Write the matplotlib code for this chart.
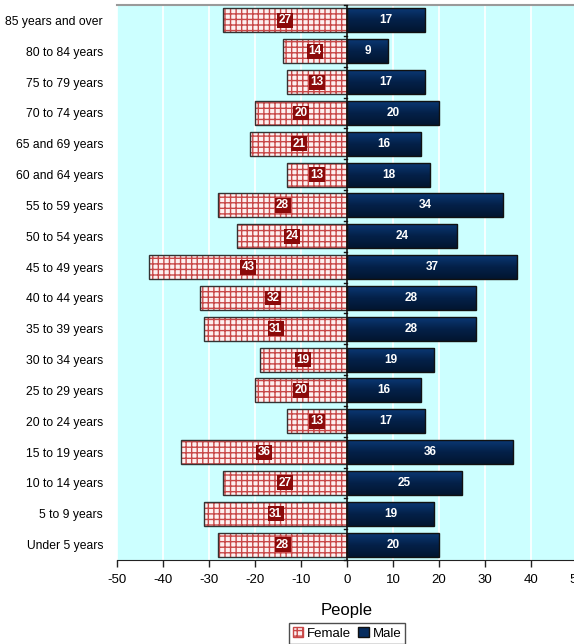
import numpy as np
import matplotlib.pyplot as plt
from matplotlib.patches import Patch
from matplotlib.colors import LinearSegmentedColormap

plt.rcParams['font.family'] = ['Liberation Sans', 'DejaVu Sans']

ages = ["85 years and over", "80 to 84 years", "75 to 79 years", "70 to 74 years",
        "65 and 69 years", "60 and 64 years", "55 to 59 years", "50 to 54 years",
        "45 to 49 years", "40 to 44 years", "35 to 39 years", "30 to 34 years",
        "25 to 29 years", "20 to 24 years", "15 to 19 years", "10 to 14 years",
        "5 to 9 years", "Under 5 years"]
female = [27, 14, 13, 20, 21, 13, 28, 24, 43, 32, 31, 19, 20, 13, 36, 27, 31, 28]
male = [17, 9, 17, 20, 16, 18, 34, 24, 37, 28, 28, 19, 16, 17, 36, 25, 19, 20]
xticks = [-50, -40, -30, -20, -10, 0, 10, 20, 30, 40, 50]

navy = "#062c5e"
dark_red = "#8b0a0a"
hatch_red = "#c84848"
pink = "#fdf0f0"

fig = plt.figure(figsize=(5.74, 6.44), dpi=100)
ax = fig.add_axes([117 / 574, 84 / 644, 460 / 574, 555 / 644])
ax.set_facecolor("#ccffff")

y = np.arange(len(ages))[::-1]
h = 0.78

# female side: hatched fill, then an outline on top
ax.barh(y, -np.array(female), height=h, color=pink, edgecolor=hatch_red,
        hatch="+++", linewidth=0, zorder=3)
ax.barh(y, -np.array(female), height=h, color="none", edgecolor="#333333",
        linewidth=1.0, zorder=4)

# male side with a vertical shading
grad = np.linspace(0, 1, 64).reshape(-1, 1)
cmap = LinearSegmentedColormap.from_list("navy", ["#0b3a78", "#04214a", "#021530"])
bars = ax.barh(y, male, height=h, color=navy, edgecolor="#111111", linewidth=1.0, zorder=3)
for b in bars:
    x0, y0 = b.get_x(), b.get_y()
    im = ax.imshow(grad, cmap=cmap, aspect="auto", zorder=3.5, origin="upper",
                   extent=[x0, x0 + b.get_width(), y0, y0 + b.get_height()])
    im.set_clip_path(b)
    b.set_facecolor("none")
    b.set_zorder(4)

for yi, f, m in zip(y, female, male):
    ax.text(-f / 2, yi, str(f), ha="center", va="center", color="white", fontsize=8.5,
            fontweight="bold", zorder=6,
            bbox=dict(boxstyle="square,pad=0.12", facecolor=dark_red, edgecolor="none"))
    ax.text(m / 2, yi, str(m), ha="center", va="center", color="white", fontsize=8.5,
            fontweight="bold", zorder=6)

ax.set_xlim(-50, 50)
ax.set_ylim(-0.5, len(ages) - 0.5)
ax.set_xticks(xticks)
ax.set_xticklabels([str(t) for t in xticks], fontsize=9.5)
ax.set_yticks(y)
ax.set_yticklabels(ages, fontsize=8.7)
ax.tick_params(axis="y", length=0, pad=10)
ax.tick_params(axis="x", direction="out", length=5, width=1, color="#222222", pad=5)
ax.grid(axis="x", color="white", linewidth=1.2, zorder=1)
ax.set_axisbelow(True)

# category axis crossing at zero with its small separators
ax.axvline(0, color="#111111", linewidth=1.2, zorder=5)
for yb in np.arange(-0.5, len(ages), 1.0):
    ax.plot([-0.7, 0], [yb, yb], color="#111111", linewidth=1, zorder=5, clip_on=False)

for side in ["right", "left"]:
    ax.spines[side].set_visible(False)
ax.spines["top"].set_color("#9a9a9a")
ax.spines["top"].set_linewidth(1.5)
ax.spines["bottom"].set_color("#222222")

ax.set_xlabel("People", fontsize=12, labelpad=12)

handles = [Patch(facecolor=pink, edgecolor=hatch_red, hatch="+++", label="Female"),
           Patch(facecolor=navy, edgecolor="#111111", label="Male")]
fig.legend(handles=handles, loc="upper center", bbox_to_anchor=(347 / 574, 21 / 644),
           ncol=2, fontsize=9.5, frameon=True, fancybox=False, edgecolor="#222222",
           handlelength=0.8, handleheight=0.8, handletextpad=0.3, columnspacing=0.5,
           borderpad=0.3, borderaxespad=0)

fig.savefig("out.png", dpi=100)
